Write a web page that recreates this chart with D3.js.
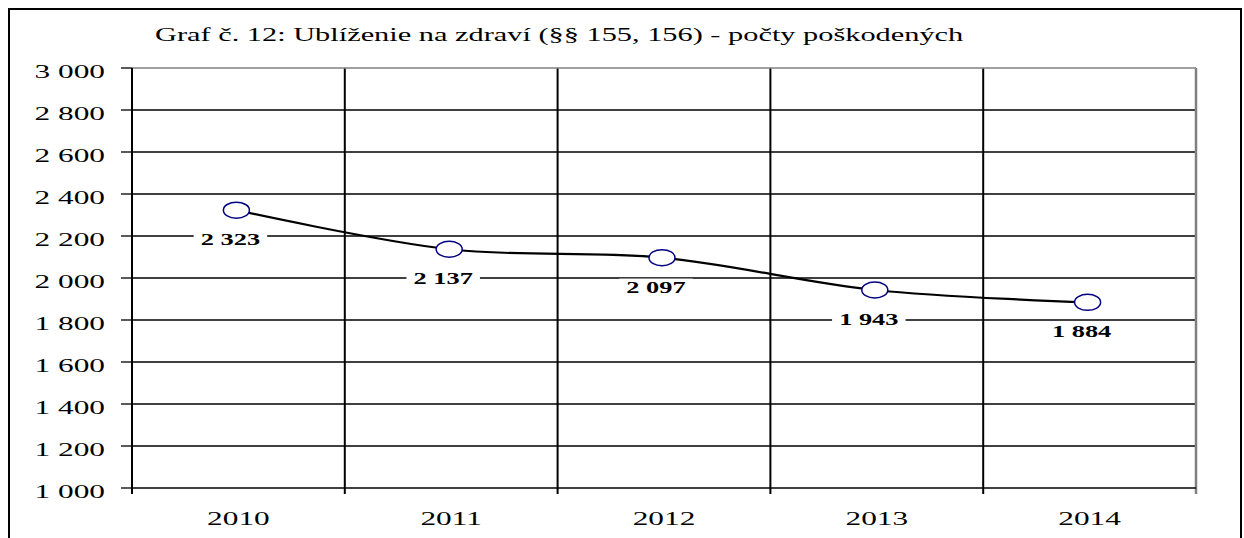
<!DOCTYPE html>
<html lang="sk">
<meta charset="utf-8">
<title>Graf č. 12</title>
<style>
  body { margin: 0; background: #fff; }
  svg { display: block; }
  text { font-family: "Liberation Serif", "Times New Roman", serif; fill: #000; }
</style>
<body>
<div id="chart"></div>
<script src="https://cdn.jsdelivr.net/npm/d3@7"></script>
<script>
// Data
var years = ["2010", "2011", "2012", "2013", "2014"];
var victims = [2323, 2137, 2097, 1943, 1884];
var yTicks = [1000, 1200, 1400, 1600, 1800, 2000, 2200, 2400, 2600, 2800, 3000];
var title = "Graf č. 12: Ublíženie na zdraví (§§ 155, 156) - počty poškodených";

var W = 1244, H = 538;
var sx = 1.65; // the original picture is stretched horizontally, text too
var plotL = 132, plotR = 1196, plotT = 68, plotB = 488;

var svg = d3.select("#chart").append("svg").attr("width", W).attr("height", H);

// outer frame
svg.append("rect").attr("x", 9).attr("y", 9).attr("width", 1232).attr("height", 560)
  .attr("fill", "none").attr("stroke", "#000").attr("stroke-width", 2);

var x = d3.scaleBand().domain(years).range([plotL, plotR]).padding(0);
var y = d3.scaleLinear().domain([1000, 3000]).range([plotB, plotT]);

// stretched text helper
function sText(g, px, py, str) {
  return g.append("text").attr("transform", "translate(" + px + "," + py + ") scale(" + sx + ",1)").text(str);
}
var fmt = function (v) { return d3.format(",")(v).replace(/,/g, " "); };

// horizontal gridlines
svg.append("g").selectAll("line").data(yTicks.filter(function (d) { return d > 1000 && d < 3000; }))
  .join("line")
  .attr("x1", plotL).attr("x2", plotR)
  .attr("y1", function (d) { return y(d); }).attr("y2", function (d) { return y(d); })
  .attr("stroke", "#000").attr("stroke-width", 1.3);

// vertical gridlines at category boundaries
var bounds = years.slice(1).map(function (d) { return x(d); });
svg.append("g").selectAll("line").data(bounds).join("line")
  .attr("x1", function (d) { return d; }).attr("x2", function (d) { return d; })
  .attr("y1", plotT).attr("y2", plotB + 6)
  .attr("stroke", "#000").attr("stroke-width", 2);

// plot area border (top, right) in grey
svg.append("line").attr("x1", plotL).attr("x2", plotR).attr("y1", plotT).attr("y2", plotT)
  .attr("stroke", "#808080").attr("stroke-width", 1.5);
svg.append("line").attr("x1", plotR).attr("x2", plotR).attr("y1", plotT).attr("y2", plotB + 6)
  .attr("stroke", "#808080").attr("stroke-width", 2.5);

// y axis
var yg = svg.append("g");
yg.append("line").attr("x1", plotL).attr("x2", plotL).attr("y1", plotT).attr("y2", plotB + 6)
  .attr("stroke", "#000").attr("stroke-width", 2);
yTicks.forEach(function (t) {
  yg.append("line").attr("x1", plotL - 11).attr("x2", plotL).attr("y1", y(t)).attr("y2", y(t))
    .attr("stroke", "#000").attr("stroke-width", 1.3);
  sText(yg, 105, y(t) + 10, fmt(t)).attr("text-anchor", "end").attr("font-size", 19);
});

// x axis
var xg = svg.append("g");
xg.append("line").attr("x1", plotL).attr("x2", plotR).attr("y1", plotB).attr("y2", plotB)
  .attr("stroke", "#000").attr("stroke-width", 1.5);
years.forEach(function (d) {
  sText(xg, x(d) + x.bandwidth() / 2, plotB + 37, d).attr("text-anchor", "middle").attr("font-size", 19);
});

// title
sText(svg, 155, 41, title).attr("font-size", 18.4);

// line
var pts = years.map(function (d, i) { return [x(d) + x.bandwidth() / 2 - 2, y(victims[i])]; });
svg.append("path").datum(pts)
  .attr("d", d3.line().curve(d3.curveCardinal.tension(0)))
  .attr("fill", "none").attr("stroke", "#000").attr("stroke-width", 2.2);

// data labels with white boxes
var lg = svg.append("g");
pts.forEach(function (p, i) {
  var cx = p[0] - 6, cy = p[1] + 30;
  var box = lg.append("rect");
  var t = sText(lg, cx, cy + 5, fmt(victims[i]))
    .attr("text-anchor", "middle").attr("font-size", 16).attr("font-weight", "bold");
  var bw = t.node().getBBox().width * sx + 14;
  box.attr("x", cx - bw / 2).attr("y", cy - 9).attr("width", bw).attr("height", 18).attr("fill", "#fff");
});

// markers
svg.append("g").selectAll("ellipse").data(pts).join("ellipse")
  .attr("cx", function (d) { return d[0]; }).attr("cy", function (d) { return d[1]; })
  .attr("rx", 13).attr("ry", 8)
  .attr("fill", "#fff").attr("stroke", "#000080").attr("stroke-width", 1.5);
</script>
</body>
</html>
